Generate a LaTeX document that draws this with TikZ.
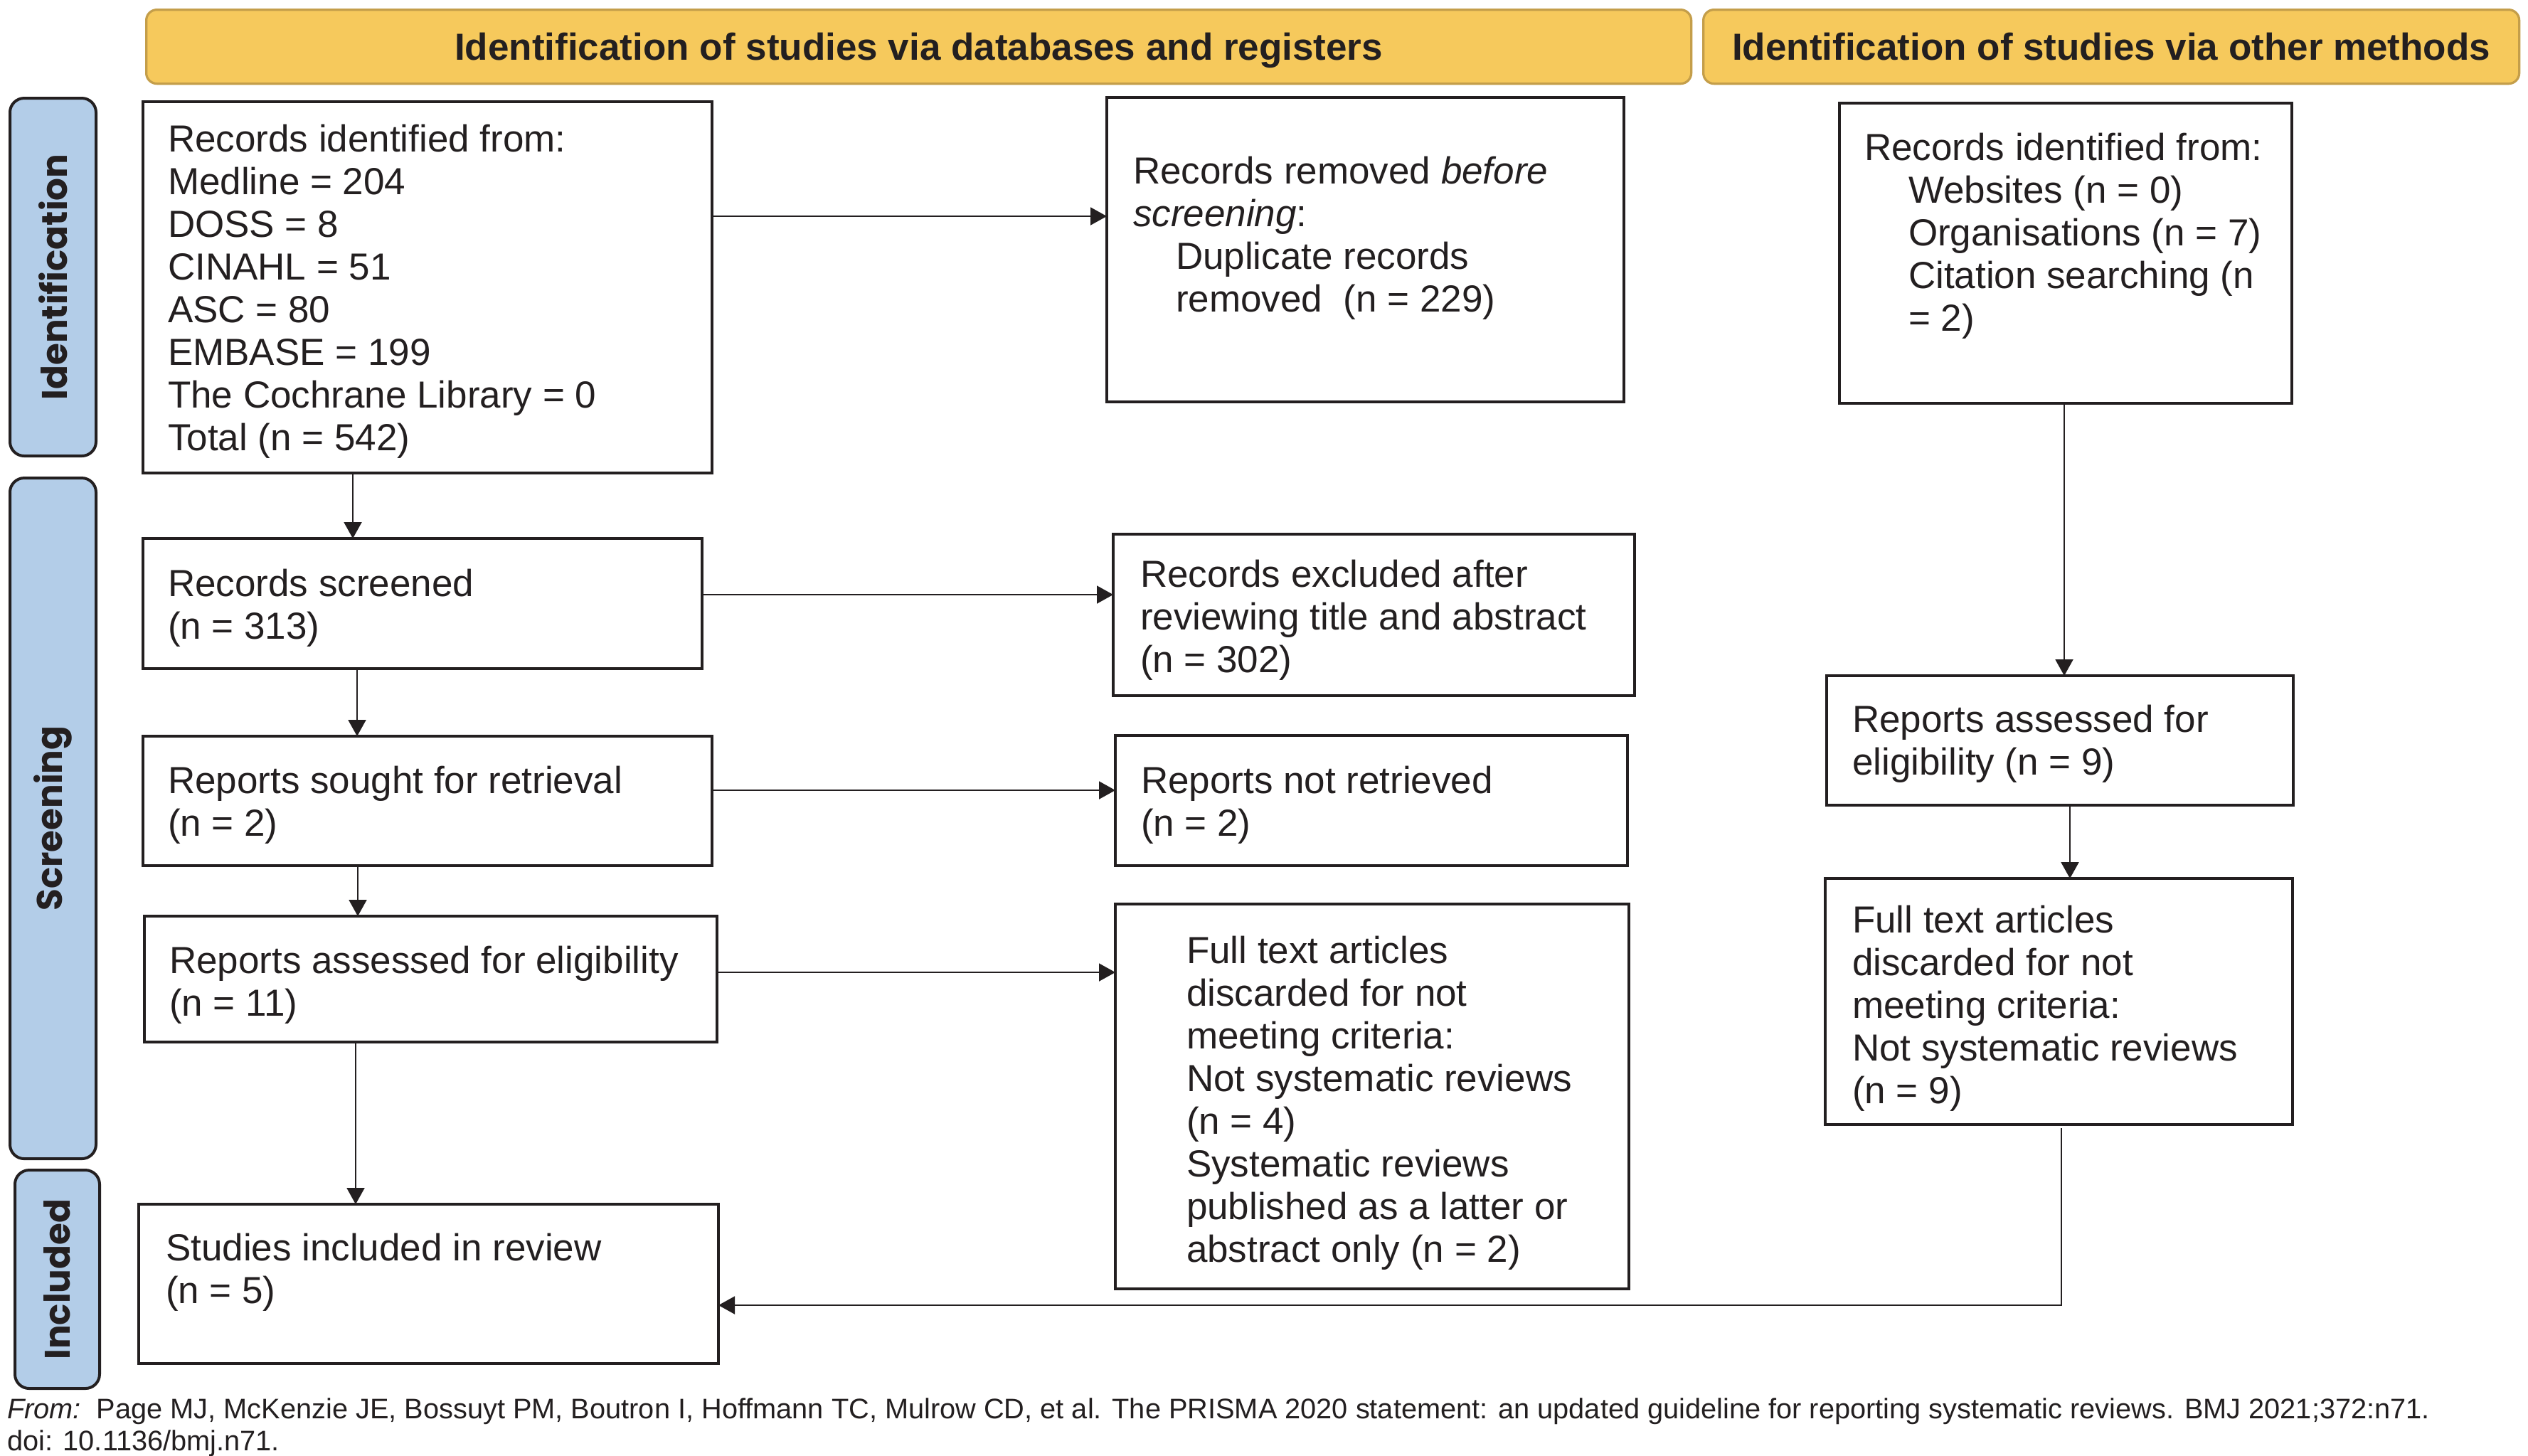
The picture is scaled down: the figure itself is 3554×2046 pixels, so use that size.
\documentclass[tikz,border=0pt]{standalone}
\usepackage{fontspec}
\setmainfont{Liberation Sans}
\newfontfamily\tabfont{Poppins}
\usetikzlibrary{arrows.meta,calc}
\definecolor{hdrfill}{HTML}{F6C95C}
\definecolor{hdrline}{HTML}{C49E4A}
\definecolor{tabfill}{HTML}{B3CDE8}
\definecolor{ink}{HTML}{231F20}
\begin{document}
\begin{tikzpicture}[x=0.2pt,y=-0.2pt,
  box/.style={draw=ink, line width=0.7pt, anchor=north west, inner sep=0pt, outer sep=0pt},
  txt/.style={anchor=north west, inner sep=0pt, align=left, text=ink, font=\fontsize{10.6}{12.0}\selectfont},
  arr/.style={draw=ink, line width=0.4pt, -{Triangle[length=4.6pt,width=5pt]}},
  hdr/.style={draw=hdrline, fill=hdrfill, line width=0.65pt, rounded corners=3pt, anchor=north west, inner sep=0pt, text depth=0pt, text=ink, font=\bfseries\fontsize{10.6}{12}\selectfont},
  tabbox/.style={draw=ink, fill=tabfill, line width=0.8pt, rounded corners=4pt, anchor=north west, inner sep=0pt},
  tablbl/.style={rotate=90, inner sep=0pt, text=ink, font=\tabfont\bfseries\fontsize{10}{12}\selectfont}
]
\useasboundingbox (0,0) rectangle (3554,2046);

% headers
\node[hdr, minimum width=434.4pt, minimum height=20.8pt] (H1) at (204,12) {Identification of studies via databases and registers};
\node[hdr, minimum width=229.4pt, minimum height=20.8pt] (H2) at (2393,12) {Identification of studies via other methods};

% side tabs
\node[tabbox, minimum width=24.2pt, minimum height=100.6pt] (T1) at (12,136) {};
\node[tabbox, minimum width=24.2pt, minimum height=191.4pt] (T2) at (12,670) {};
\node[tabbox, minimum width=23.8pt, minimum height=61.4pt] (T3) at (19,1643) {};
\node[tablbl] (T1l) at (T1.center) {Identification};
\node[tablbl] (T2l) at (T2.center) {Screening};
\node[tablbl] (T3l) at (T3.center) {Included};

% boxes
\node[box, minimum width=160pt, minimum height=104.4pt] (A) at (201,143) {};
\node[box, minimum width=145.4pt, minimum height=85.6pt] (Rem) at (1556,137) {};
\node[box, minimum width=127.2pt, minimum height=84.4pt] (Oth) at (2586,145) {};
\node[box, minimum width=157.2pt, minimum height=36.6pt] (Scr) at (201,757) {};
\node[box, minimum width=146.6pt, minimum height=45.4pt] (Exc) at (1565,751) {};
\node[box, minimum width=160pt, minimum height=36.4pt] (Sou) at (201,1035) {};
\node[box, minimum width=144pt, minimum height=36.6pt] (NR) at (1568,1034) {};
\node[box, minimum width=161pt, minimum height=35.4pt] (Ass) at (203,1288) {};
\node[box, minimum width=144.4pt, minimum height=108.2pt] (FL) at (1568,1271) {};
\node[box, minimum width=131.2pt, minimum height=36.4pt] (AO) at (2568,950) {};
\node[box, minimum width=131.4pt, minimum height=69.2pt] (FR) at (2566,1235) {};
\node[box, minimum width=163pt, minimum height=44.8pt] (Inc) at (195,1693) {};

% texts
\node[txt] (tA) at (235,174) {Records identified from:\\Medline = 204\\DOSS = 8\\CINAHL = 51\\ASC = 80\\EMBASE = 199\\The Cochrane Library = 0\\Total (n = 542)};
\node[txt] (tRem) at (1592,219) {Records removed \textit{before}\\\textit{screening}:\\\hspace*{12pt}Duplicate records\\\hspace*{12pt}removed\ \ (n = 229)};
\node[txt] (tOth) at (2620,186) {Records identified from:\\\hspace*{12.4pt}Websites (n = 0)\\\hspace*{12.4pt}Organisations (n = 7)\\\hspace*{12.4pt}Citation searching (n\\\hspace*{12.4pt}= 2)};
\node[txt] (tScr) at (235,799) {Records screened\\(n = 313)};
\node[txt] (tExc) at (1602,786) {Records excluded after\\reviewing title and abstract\\(n = 302)};
\node[txt] (tSou) at (235,1076) {Reports sought for retrieval\\(n = 2)};
\node[txt] (tNR) at (1603,1076) {Reports not retrieved\\(n = 2)};
\node[txt] (tAss) at (237,1329) {Reports assessed for eligibility\\(n = 11)};
\node[txt] (tFL) at (1667,1315) {Full text articles\\discarded for not\\meeting criteria:\\Not systematic reviews\\(n = 4)\\Systematic reviews\\published as a latter or\\abstract only (n = 2)};
\node[txt] (tAO) at (2603,990) {Reports assessed for\\eligibility (n = 9)};
\node[txt] (tFR) at (2603,1272) {Full text articles\\discarded for not\\meeting criteria:\\Not systematic reviews\\(n = 9)};
\node[txt] (tInc) at (232,1733) {Studies included in review\\(n = 5)};

% footer
\node[anchor=north west, inner sep=0pt, align=left, text=ink, font=\fontsize{7.95}{9}\selectfont] (foot) at (9,1965) {\textit{From:}\ \ Page MJ, McKenzie JE, Bossuyt PM, Boutron I, Hoffmann TC, Mulrow CD, et al. The PRISMA 2020 statement: an updated guideline for reporting systematic reviews. BMJ 2021;372:n71.\\doi: 10.1136/bmj.n71.};

% helper coordinates
\coordinate (yAR) at (0,304);
\coordinate (xAS) at (496,0);
\coordinate (ySE) at (0,836);
\coordinate (xSS) at (502,0);
\coordinate (ySN) at (0,1111);
\coordinate (xSA) at (503,0);
\coordinate (yAF) at (0,1367);
\coordinate (xAI) at (500,0);
\coordinate (xOA) at (2902,0);
\coordinate (xAF) at (2910,0);
\coordinate (xFI) at (2898,0);
\coordinate (yFI) at (0,1835);
\coordinate (bend) at (2898,1835);

% connectors
\draw[arr] (A.east |- yAR) -- (Rem.west |- yAR);
\draw[arr] (A.south -| xAS) -- (Scr.north -| xAS);
\draw[arr] (Scr.east |- ySE) -- (Exc.west |- ySE);
\draw[arr] (Scr.south -| xSS) -- (Sou.north -| xSS);
\draw[arr] (Sou.east |- ySN) -- (NR.west |- ySN);
\draw[arr] (Sou.south -| xSA) -- (Ass.north -| xSA);
\draw[arr] (Ass.east |- yAF) -- (FL.west |- yAF);
\draw[arr] (Ass.south -| xAI) -- (Inc.north -| xAI);
\draw[arr] (Oth.south -| xOA) -- (AO.north -| xOA);
\draw[arr] (AO.south -| xAF) -- (FR.north -| xAF);
\draw[arr, shorten <=1pt] (FR.south -| xFI) -- (bend) -- (Inc.east |- yFI);
\end{tikzpicture}
\end{document}
